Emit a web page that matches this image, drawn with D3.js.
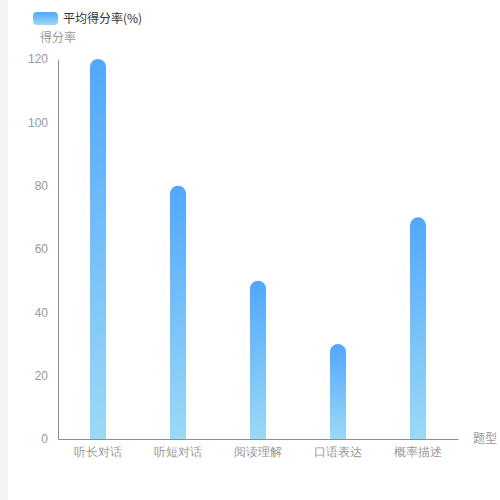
<!DOCTYPE html>
<html>
<head>
<meta charset="utf-8">
<script src="https://cdn.jsdelivr.net/npm/d3@7"></script>
<style>
  body { margin: 0; background: #fff; }
  #strip { position: absolute; left: 0; top: 0; width: 8px; height: 500px; background: #f3f3f8; }
  svg { position: absolute; left: 0; top: 0; font-family: "Noto Sans CJK SC", sans-serif; }
</style>
</head>
<body>
<div id="strip"></div>
<div id="chart"></div>
<script>
// categories and values
var categories = ["听长对话", "听短对话", "阅读理解", "口语表达", "概率描述"];
var values = [120, 80, 50, 30, 70];
var yTicks = [0, 20, 40, 60, 80, 100, 120];
var seriesName = "平均得分率(%)";

var margin = { top: 59, right: 42, bottom: 61, left: 58 },
    width = 500 - margin.left - margin.right,
    height = 500 - margin.top - margin.bottom;

var svg = d3.select("#chart").append("svg")
    .attr("width", 500)
    .attr("height", 500);

// gradient used by bars and legend
var defs = svg.append("defs");
var grad = defs.append("linearGradient")
    .attr("id", "barGrad")
    .attr("x1", 0).attr("y1", 0).attr("x2", 0).attr("y2", 1);
grad.append("stop").attr("offset", "0%").attr("stop-color", "#52a7fd");
grad.append("stop").attr("offset", "100%").attr("stop-color", "#9bd9f5");

var g = svg.append("g")
    .attr("transform", "translate(" + margin.left + "," + margin.top + ")");

var x = d3.scaleBand()
    .domain(categories)
    .range([0, width]);

var y = d3.scaleLinear()
    .domain([0, 120])
    .range([height, 0]);

// Y axis
var yAxis = g.append("g")
    .call(d3.axisLeft(y).tickValues(yTicks).tickSize(0).tickPadding(10));
yAxis.select(".domain").attr("stroke", "#8c8c8c");
yAxis.selectAll("text").attr("fill", "#999").style("font-size", "12px");

// X axis
var xAxis = g.append("g")
    .attr("transform", "translate(0," + height + ")")
    .call(d3.axisBottom(x).tickSize(0).tickPadding(8));
xAxis.select(".domain").attr("stroke", "#8c8c8c");
xAxis.selectAll("text").attr("fill", "#999").style("font-size", "12px");

// bars with rounded tops
var barW = 16, r = 8;
g.selectAll("path.bar")
    .data(values)
    .enter()
    .append("path")
    .attr("class", "bar")
    .attr("fill", "url(#barGrad)")
    .attr("d", function (d, i) {
        var cx = x(categories[i]) + x.bandwidth() / 2;
        var x0 = cx - barW / 2, x1 = cx + barW / 2;
        var top = y(d), bottom = y(0);
        return "M" + x0 + "," + bottom +
            "V" + (top + r) +
            "A" + r + "," + r + " 0 0 1 " + x1 + "," + (top + r) +
            "V" + bottom + "Z";
    });

// axis names
svg.append("text")
    .attr("x", 58).attr("y", 42)
    .attr("text-anchor", "middle")
    .attr("fill", "#999")
    .style("font-size", "12px")
    .text("得分率");

svg.append("text")
    .attr("x", 473).attr("y", 443)
    .attr("fill", "#999")
    .style("font-size", "12px")
    .text("题型");

// legend
svg.append("rect")
    .attr("x", 33).attr("y", 12)
    .attr("width", 25).attr("height", 13)
    .attr("rx", 4)
    .attr("fill", "url(#barGrad)");
svg.append("text")
    .attr("x", 63).attr("y", 23)
    .attr("fill", "#333")
    .style("font-size", "12px")
    .text(seriesName);
</script>
</body>
</html>
